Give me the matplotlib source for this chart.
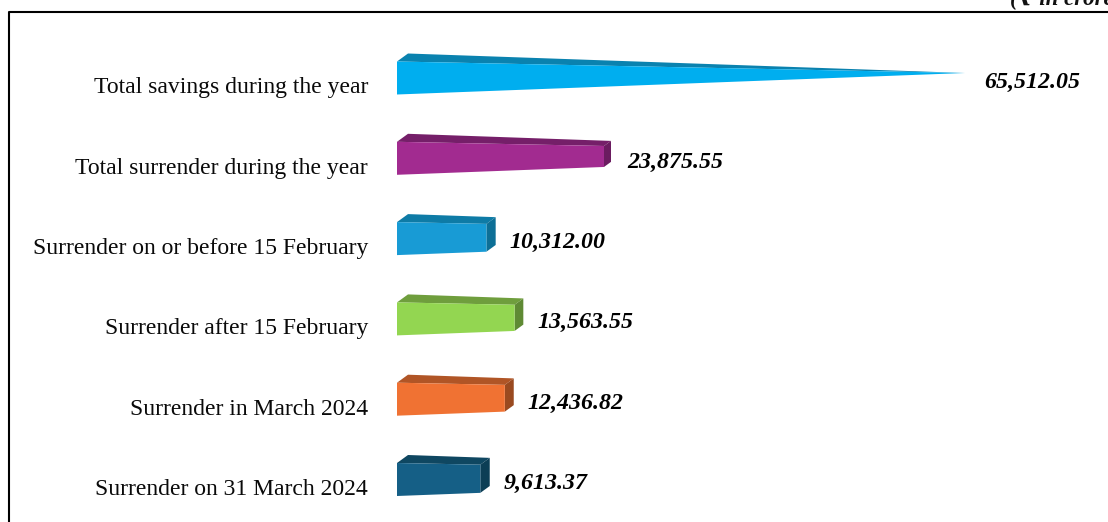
#!/usr/bin/env python3
import matplotlib.pyplot as plt
from matplotlib.patches import Polygon

categories = [
    "Total savings during the year",
    "Total surrender during the year",
    "Surrender on or before 15 February",
    "Surrender after 15 February",
    "Surrender in March 2024",
    "Surrender on 31 March 2024",
]
values = [65512.05, 23875.55, 10312.00, 13563.55, 12436.82, 9613.37]
value_labels = ["65,512.05", "23,875.55", "10,312.00", "13,563.55", "12,436.82", "9,613.37"]
front_colors = ["#00AEEF", "#A22B90", "#189BD5", "#93D651", "#F07233", "#155F86"]
top_colors = ["#0A82AF", "#751F69", "#0E7BA6", "#6F9E3D", "#B05526", "#0F4761"]
side_colors = ["#0A82AF", "#6B1C60", "#0D6F96", "#5F8A34", "#9A4A20", "#0C3E55"]

PX_PER_VALUE = 568 / 65512.05
PX_PER_ROW = 80.3
HALF_HEIGHT = 16.5 / PX_PER_ROW
DEPTH_X = 11 / PX_PER_VALUE
DEPTH_Y = 8 / PX_PER_ROW
TIP_RISE = 5 / PX_PER_ROW

plt.rcParams["font.family"] = ["Liberation Serif", "DejaVu Serif"]

fig = plt.figure(figsize=(11.08, 5.22), dpi=100, facecolor="white")
ax = fig.add_axes([0, 0, 1, 1])
ax.set_xlim(-397 / PX_PER_VALUE, (1108 - 397) / PX_PER_VALUE)
ax.set_ylim((522 - 78) / PX_PER_ROW, -78 / PX_PER_ROW)
ax.axis("off")

max_value = max(values)
for row, value in enumerate(values):
    taper = 1 - value / max_value
    half = HALF_HEIGHT * taper
    mid = row - TIP_RISE * (1 - taper)
    dx, dy = DEPTH_X * taper, DEPTH_Y * taper

    top = [(0, row - HALF_HEIGHT), (DEPTH_X, row - HALF_HEIGHT - DEPTH_Y),
           (value + dx, mid - half - dy), (value, mid - half)]
    side = [(value, mid - half), (value + dx, mid - half - dy),
            (value + dx, mid + half - dy), (value, mid + half)]
    front = [(0, row - HALF_HEIGHT), (value, mid - half),
             (value, mid + half), (0, row + HALF_HEIGHT)]
    ax.add_patch(Polygon(top, facecolor=top_colors[row], edgecolor="none"))
    ax.add_patch(Polygon(side, facecolor=side_colors[row], edgecolor="none"))
    ax.add_patch(Polygon(front, facecolor=front_colors[row], edgecolor="none"))

    ax.annotate(categories[row], (0, row), xytext=(-29 * 0.72, -10 * 0.72),
                textcoords="offset points", ha="right", va="center",
                fontsize=17, color="#0A0A0A")
    gap = 19 if value == max_value else 23
    ax.annotate(value_labels[row], (value, row), xytext=(gap * 0.72, -4 * 0.72),
                textcoords="offset points", ha="left", va="center",
                fontsize=17.2, fontweight="bold", fontstyle="italic", color="#000000")

# frame of the source box, open at the bottom and right
ax.plot([9 / 1108, 9 / 1108, 1], [0, 1 - 12 / 522, 1 - 12 / 522], transform=ax.transAxes,
        color="black", linewidth=1.5, clip_on=False)
# the unit note runs off the right edge in the source as well
fig.text(1010 / 1108, 1 - 5 / 522, "(₹ in crore)", ha="left", va="baseline",
         fontsize=16.5, fontweight="bold", fontstyle="italic", color="#111111")

fig.savefig("out.png", dpi=100, facecolor="white")
